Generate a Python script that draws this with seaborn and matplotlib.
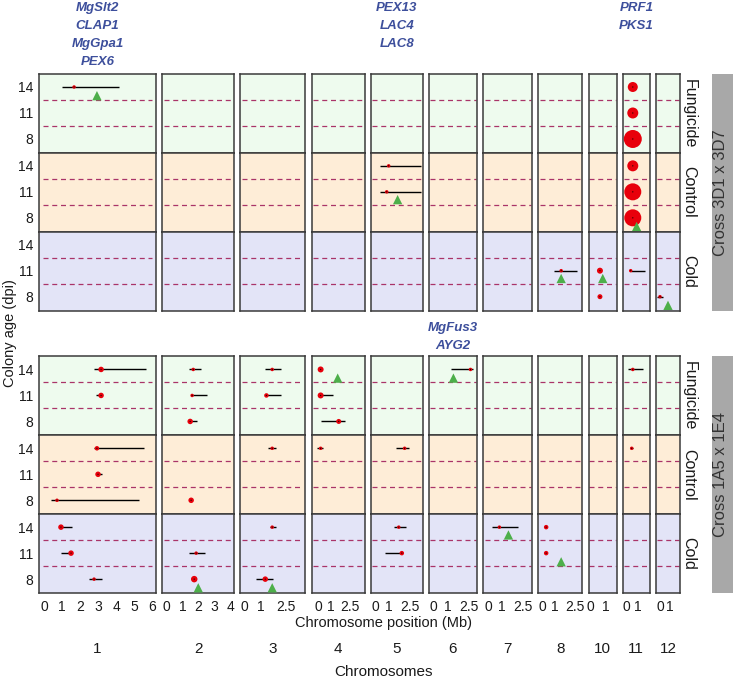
import numpy as np
import pandas as pd
import matplotlib
matplotlib.use("Agg")
import matplotlib.pyplot as plt
import seaborn as sns

# Facets
chromosomes = ["1", "2", "3", "4", "5", "6", "7", "8", "10", "11", "12"]
crosses = ["Cross 3D1 x 3D7", "Cross 1A5 x 1E4"]
treatments = ["Fungicide", "Control", "Cold"]
days = [14, 11, 8]

# x range and ticks for each chromosome panel (Mb)
x_limits = [(-0.28, 6.22), (-0.25, 4.2), (-0.22, 3.7), (-0.5, 3.6), (-0.32, 3.4),
            (-0.3, 3.1), (-0.37, 3.2), (-0.3, 3.1), (-0.1, 1.7), (-0.36, 2.1), (-0.4, 2.0)]
x_ticks = [[0, 1, 2, 3, 4, 5, 6], [0, 1, 2, 3, 4], [0, 1, 2.5], [0, 1, 2.5], [0, 1, 2.5],
           [0, 1, 2.5], [0, 1, 2.5], [0, 1, 2.5], [0, 1], [0, 1], [0, 1]]
panel_widths = [117, 72, 65, 53, 52, 48, 49, 44, 28, 27, 24]

# QTL peaks: cross index, treatment, chromosome, day, peak, interval, marker diameter (px)
qtl_cross = [0] * 14 + [1] * 32
qtl_treat = (["Fungicide"] * 4 + ["Control"] * 5 + ["Cold"] * 5
             + ["Fungicide"] * 12 + ["Control"] * 8 + ["Cold"] * 12)
qtl_chr = ["1", "11", "11", "11", "5", "5", "11", "11", "11", "8", "10", "10", "11", "12",
           "1", "1", "2", "2", "2", "3", "3", "4", "4", "4", "6", "11",
           "1", "1", "1", "2", "3", "4", "5", "11",
           "1", "1", "1", "2", "2", "3", "3", "5", "5", "7", "8", "8"]
qtl_day = [14, 14, 11, 8, 14, 11, 14, 11, 8, 11, 11, 8, 11, 8,
           14, 11, 14, 11, 8, 14, 11, 14, 11, 8, 14, 14,
           14, 11, 8, 8, 14, 14, 14, 14,
           14, 11, 8, 11, 8, 14, 8, 14, 11, 14, 14, 11]
qtl_pos = [1.67, 0.55, 0.55, 0.55, 0.96, 0.82, 0.55, 0.55, 0.55, 1.46, 0.63, 0.63, 0.36, 0.0,
           3.17, 3.17, 1.67, 1.6, 1.48, 1.7, 1.35, 0.2, 0.2, 1.6, 2.64, 0.55,
           2.94, 3.0, 0.72, 1.54, 1.7, 0.2, 2.1, 0.45,
           0.94, 1.5, 2.78, 1.85, 1.73, 1.7, 1.28, 1.68, 1.9, 0.81, 0.3, 0.3]
qtl_lo = [1.0, 0.55, 0.55, 0.55, 0.32, 0.32, 0.55, 0.55, 0.55, 0.92, 0.63, 0.63, 0.36, -0.3,
          2.78, 2.9, 1.42, 1.54, 1.48, 1.28, 1.3, 0.2, 0.2, 0.2, 1.29, 0.1,
          2.78, 2.9, 0.39, 1.54, 1.46, -0.1, 1.46, 0.27,
          0.94, 0.94, 2.5, 1.42, 1.73, 1.57, 0.74, 1.32, 0.68, 0.29, 0.3, 0.3]
qtl_hi = [4.17, 0.55, 0.55, 0.55, 3.25, 3.25, 0.55, 0.55, 0.55, 2.7, 0.63, 0.63, 1.64, 0.3,
          5.67, 3.2, 2.16, 2.53, 1.9, 2.25, 2.2, 0.2, 1.13, 2.07, 2.79, 1.45,
          5.56, 3.2, 5.28, 1.54, 1.95, 0.35, 2.39, 0.6,
          1.55, 1.5, 3.22, 2.4, 1.73, 1.95, 1.77, 2.18, 1.9, 2.2, 0.3, 0.3]
qtl_diam = [3.5, 10, 11, 18, 3.5, 3.5, 11, 17, 17, 3.5, 6, 5, 3.5, 3.5,
            5.5, 5.5, 3.5, 3.5, 5.5, 3.5, 4.5, 6, 6, 5, 3.5, 3.5,
            4.5, 5.5, 3.5, 5.5, 3.5, 3.5, 3.5, 3.5,
            5.5, 5.5, 3.5, 3.5, 6.5, 3.5, 5.5, 3.5, 4.5, 3.5, 4.5, 4.5]

# Candidate genes (triangles)
gene_cross = [0, 0, 0, 0, 0, 0, 1, 1, 1, 1, 1, 1]
gene_treat = ["Fungicide", "Control", "Control", "Cold", "Cold", "Cold",
              "Fungicide", "Fungicide", "Cold", "Cold", "Cold", "Cold"]
gene_chr = ["1", "5", "11", "8", "10", "12", "4", "6", "2", "3", "7", "8"]
gene_pos = [2.94, 1.6, 0.9, 1.46, 0.81, 0.8, 1.52, 1.43, 1.98, 1.7, 1.47, 1.46]
gene_y = [13.0, 10.1, 7.0, 10.1, 10.1, 7.0, 13.0, 13.0, 7.0, 7.0, 13.1, 10.0]

# Gene names printed above columns
label_cross = [0, 0, 0, 1]
label_chr = ["1", "5", "11", "6"]
label_text = [["MgSlt2", "CLAP1", "MgGpa1", "PEX6"], ["PEX13", "LAC4", "LAC8"],
              ["PRF1", "PKS1"], ["MgFus3", "AYG2"]]

qtl = pd.DataFrame({"cross": qtl_cross, "treat": qtl_treat, "chr": qtl_chr, "day": qtl_day,
                    "pos": qtl_pos, "lo": qtl_lo, "hi": qtl_hi, "diam": qtl_diam})
qtl["area"] = (qtl["diam"] * 0.72) ** 2
genes = pd.DataFrame({"cross": gene_cross, "treat": gene_treat, "chr": gene_chr,
                      "pos": gene_pos, "y": gene_y})

sns.set_style("white")
plt.rcParams["font.family"] = ["Liberation Sans", "DejaVu Sans"]

bg = {"Fungicide": "#EEFBEE", "Control": "#FEEDD7", "Cold": "#E3E4F7"}
dash_color = "#AA3468"

fig = plt.figure(figsize=(7.33, 6.79), dpi=100)
gs = fig.add_gridspec(7, 11, width_ratios=panel_widths, height_ratios=[79, 79, 79, 46, 79, 79, 79],
                      left=39 / 733, right=680 / 733, top=1 - 74 / 679, bottom=1 - 593 / 679,
                      wspace=0.118, hspace=0)

axes = {}
for b in range(2):
    for t, treat in enumerate(treatments):
        for c, chrom in enumerate(chromosomes):
            ax = fig.add_subplot(gs[b * 4 + t, c])
            axes[(b, t, c)] = ax
            ax.set_facecolor(bg[treat])
            for yl in (12.5, 9.5):
                ax.axhline(yl, xmin=0.03, xmax=0.97, color=dash_color, lw=0.9,
                           ls=(0, (4, 3)), zorder=1)
            sub = qtl[(qtl.cross == b) & (qtl.treat == treat) & (qtl.chr == chrom)]
            gsub = genes[(genes.cross == b) & (genes.treat == treat) & (genes.chr == chrom)]
            if len(sub):
                ax.hlines(sub["day"], sub["lo"], sub["hi"], color="black", lw=1.0, zorder=2)
                sns.scatterplot(data=sub, x="pos", y="day", s=sub["area"].to_numpy(),
                                color="#E8000B", edgecolor="none", ax=ax, legend=False, zorder=3)
                sns.scatterplot(data=sub, x="pos", y="day", s=0.9, color="#300000",
                                edgecolor="none", ax=ax, legend=False, zorder=4)
            if len(gsub):
                sns.scatterplot(data=gsub, x="pos", y="y", marker="^", s=45, color="#4DAF4A",
                                edgecolor="none", ax=ax, legend=False, zorder=5)
            ax.set_xlim(x_limits[c])
            ax.set_ylim(6.4, 15.5)
            ax.set_xlabel("")
            ax.set_ylabel("")
            ax.tick_params(length=0, labelsize=10, colors="#1a1a1a")
            if c == 0:
                ax.set_yticks(days)
                ax.set_yticklabels([str(d) for d in days])
                ax.tick_params(axis="y", pad=4)
            else:
                ax.set_yticks([])
            if b == 1 and t == 2:
                ax.set_xticks(x_ticks[c])
                ax.set_xticklabels([f"{v:g}" for v in x_ticks[c]])
                ax.tick_params(axis="x", pad=5)
            else:
                ax.set_xticks([])
            for s in ax.spines.values():
                s.set_color("#3a3a3a")
                s.set_linewidth(1.1)

# Treatment strips and cross strips on the right
for b in range(2):
    for t, treat in enumerate(treatments):
        pos = axes[(b, t, 10)].get_position()
        fig.text(689 / 733, (pos.y0 + pos.y1) / 2, treat, rotation=270, ha="center",
                 va="center", fontsize=11.5, color="#1a1a1a")
    top = axes[(b, 0, 0)].get_position().y1
    bot = axes[(b, 2, 0)].get_position().y0
    sax = fig.add_axes([712 / 733, bot, 21 / 733, top - bot])
    sax.set_facecolor("#A8A8A8")
    sax.set_xticks([])
    sax.set_yticks([])
    for s in sax.spines.values():
        s.set_visible(False)
    sax.text(0.4, 0.5, crosses[b], rotation=90, ha="center", va="center",
             fontsize=12, color="#333333", transform=sax.transAxes)

# Gene names
label_tops = [1 - 2 / 679, 1 - 322 / 679]
for b, chrom, names in zip(label_cross, label_chr, label_text):
    c = chromosomes.index(chrom)
    pos = axes[(b, 0, c)].get_position()
    fig.text((pos.x0 + pos.x1) / 2, label_tops[b], "\n".join(names), ha="center", va="top",
             fontsize=9.5, fontweight="bold", fontstyle="italic", color="#3D4F9C",
             linespacing=1.68)

# Chromosome numbers
for c, chrom in enumerate(chromosomes):
    pos = axes[(1, 2, c)].get_position()
    fig.text((pos.x0 + pos.x1) / 2, 1 - 649 / 679, chrom, ha="center", va="center",
             fontsize=11, color="#1a1a1a")

fig.text(383 / 733, 1 - 623 / 679, "Chromosome position (Mb)", ha="center", va="center",
         fontsize=10.5, color="#1a1a1a")
fig.text(383 / 733, 1 - 672 / 679, "Chromosomes", ha="center", va="center",
         fontsize=11, color="#1a1a1a")
fig.text(10 / 733, 1 - 333 / 679, "Colony age (dpi)", rotation=90, ha="center", va="center",
         fontsize=10.5, color="#1a1a1a")

fig.savefig("out.png", dpi=100)
